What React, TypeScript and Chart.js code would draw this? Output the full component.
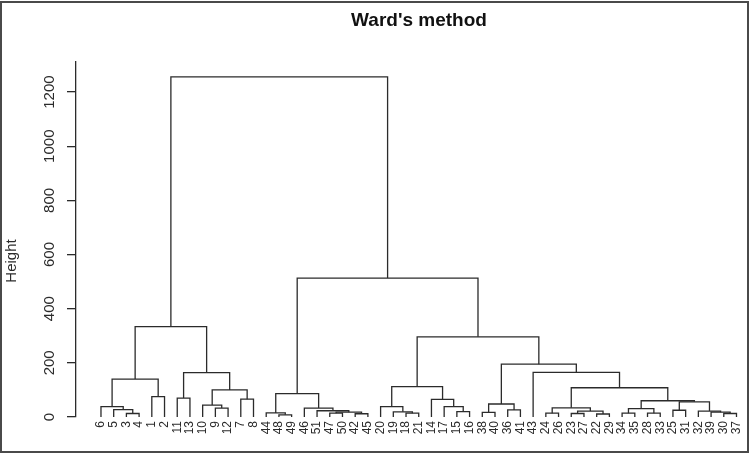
import React, { useEffect, useRef } from "react";
import { Chart, registerables } from "chart.js";

Chart.register(...registerables);

// Leaf order along the x axis (observation labels)
const leafOrder = [
  6, 5, 3, 4, 1, 2, 11, 13, 10, 9, 12, 7, 8,
  44, 48, 49, 46, 51, 47, 50, 42, 45,
  20, 19, 18, 21, 14, 17, 15, 16,
  38, 40, 36, 41, 43,
  24, 26, 23, 27, 22, 29,
  34, 35, 28, 33, 25, 31, 32, 39, 30, 37,
];

// hclust-style merges: negative = observation label, positive = earlier merge (1-based)
const mergeLeft = [
  -3, -5, -6, -1, 3, -11, -9, -10, -7, 8, 6, 5,
  -48, -44, -47, -42, 15, -51, -46, 14,
  -18, -19, -20, -15, -17, -14, 23,
  -38, -36, 28,
  -24, -23, -22, 32, 31,
  -34, -28, 36, -25, -30, -39, -32, 39, 38,
  35, -43, 30, 27, 20, 12,
];
const mergeRight = [
  -4, 1, 2, -2, 4, -13, -12, 7, -8, 9, 10, 11,
  -49, 13, -50, -45, 16, 17, 18, 19,
  -21, 21, 22, -16, 24, 25, 26,
  -40, -41, 29,
  -26, -27, -29, 33, 34,
  -35, -33, 37, -31, -37, 40, 41, 42, 43,
  44, 45, 46, 47, 48, 49,
];
const mergeHeight = [
  13, 27, 38, 75, 140, 70, 33, 44, 66, 100, 164, 334,
  8, 15, 14, 12, 18, 23, 33, 86,
  14, 19, 38, 20, 38, 65, 112,
  17, 26, 48,
  14, 13, 11, 22, 34,
  14, 14, 31, 25, 13, 18, 22, 56, 60,
  108, 165, 195, 296, 513, 1256,
];

const yTickValues = [0, 200, 400, 600, 800, 1000, 1200];
const titleText = "Ward's method";
const yAxisTitle = "Height";

const FONT = "'Liberation Sans', Arial, sans-serif";
const INK = "#2b2b2b";

export default function App() {
  const ref = useRef<HTMLCanvasElement>(null);

  useEffect(() => {
    const canvas = ref.current;
    if (!canvas) return;

    const nodes: { x: number; y: number }[] = [];
    const getNode = (id: number) =>
      id < 0 ? { x: leafOrder.indexOf(-id), y: 0 } : nodes[id - 1];

    const datasets = mergeLeft.map((l, i) => {
      const a = getNode(l);
      const b = getNode(mergeRight[i]);
      const h = mergeHeight[i];
      nodes.push({ x: (a.x + b.x) / 2, y: h });
      return {
        data: [
          { x: a.x, y: a.y },
          { x: a.x, y: h },
          { x: b.x, y: h },
          { x: b.x, y: b.y },
        ],
        borderColor: INK,
        borderWidth: 1.3,
        pointRadius: 0,
        fill: false,
        tension: 0,
        clip: false as any,
      };
    });

    const decor = {
      id: "decor",
      afterDraw(chart: any) {
        const ctx = chart.ctx as CanvasRenderingContext2D;
        const ys = chart.scales.y;
        ctx.save();
        // frame
        ctx.strokeStyle = "#4a4a4a";
        ctx.lineWidth = 2;
        ctx.strokeRect(1, 2, 747, 450);
        // title
        ctx.fillStyle = "#111";
        ctx.font = `bold 19px ${FONT}`;
        ctx.textAlign = "center";
        ctx.textBaseline = "middle";
        ctx.fillText(titleText, 419, 21);
        // y tick labels (rotated, R style)
        ctx.fillStyle = INK;
        ctx.font = `15px ${FONT}`;
        ctx.textBaseline = "alphabetic";
        yTickValues.forEach((v) => {
          const py = ys.getPixelForValue(v);
          ctx.save();
          ctx.translate(54, py);
          ctx.rotate(-Math.PI / 2);
          ctx.fillText(String(v), 0, 0);
          ctx.restore();
        });
        // y axis title
        ctx.save();
        ctx.translate(16, 261);
        ctx.rotate(-Math.PI / 2);
        ctx.fillText(yAxisTitle, 0, 0);
        ctx.restore();
        ctx.restore();
      },
    };

    const chart = new Chart(canvas, {
      type: "line",
      data: { datasets: datasets as any },
      options: {
        responsive: false,
        animation: false,
        devicePixelRatio: 1,
        layout: { padding: { top: 62, left: 0, right: 6, bottom: 0 } },
        plugins: {
          legend: { display: false },
          tooltip: { enabled: false },
          title: { display: false },
        },
        scales: {
          x: {
            type: "linear",
            min: -1.965,
            max: 50.94,
            afterBuildTicks: (s: any) => {
              s.ticks = leafOrder.map((_, i) => ({ value: i }));
            },
            afterFit: (s: any) => {
              s.height = 39;
            },
            grid: { display: false, drawTicks: false },
            border: { display: false },
            ticks: {
              autoSkip: false,
              minRotation: 90,
              maxRotation: 90,
              padding: 4,
              color: INK,
              font: { family: FONT, size: 12 },
              callback: (_v: any, i: number) => String(leafOrder[i]),
            },
          },
          y: {
            min: 0,
            max: 1311,
            afterBuildTicks: (s: any) => {
              s.ticks = yTickValues.map((v) => ({ value: v }));
            },
            afterFit: (s: any) => {
              s.width = 76;
            },
            grid: {
              drawOnChartArea: false,
              drawTicks: true,
              tickLength: 9,
              color: INK,
              lineWidth: 1.3,
            },
            border: { display: true, color: INK, width: 1.3 },
            ticks: { display: false },
          },
        },
      },
      plugins: [decor],
    });

    return () => chart.destroy();
  }, []);

  return (
    <div style={{ position: "absolute", left: 0, top: 0, width: 755, height: 456, background: "#fff" }}>
      <canvas ref={ref} width={755} height={456} style={{ display: "block" }} />
    </div>
  );
}
